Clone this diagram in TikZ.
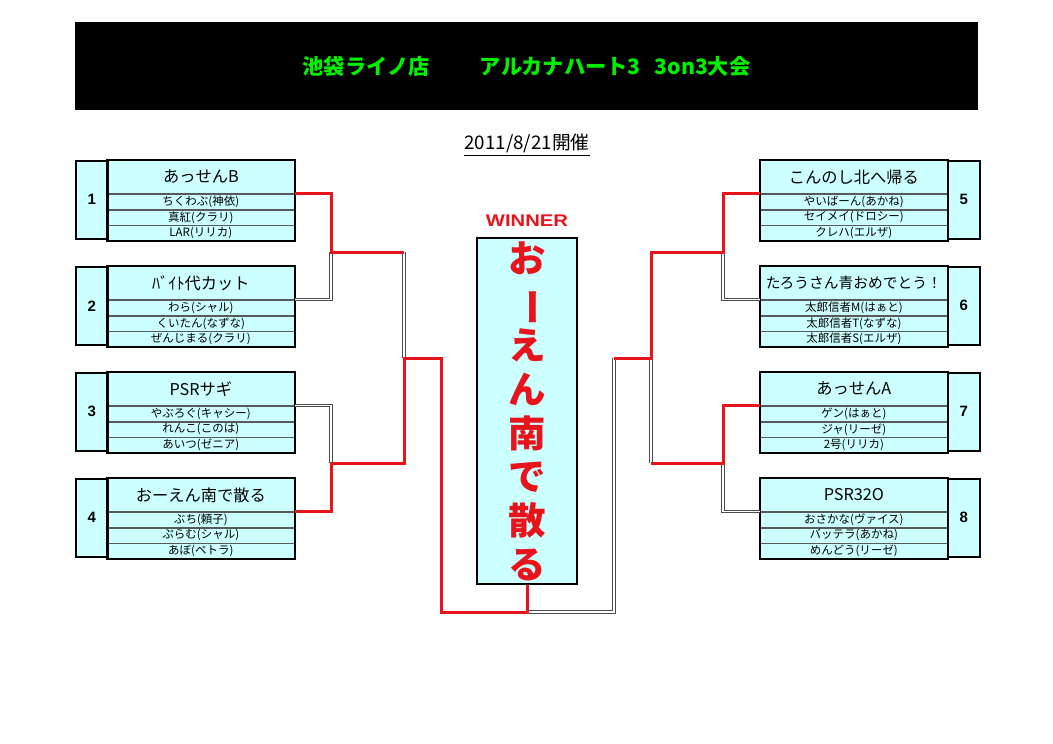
\documentclass[tikz,border=0pt]{standalone}
\usepackage{fontspec}
\usepackage{graphicx}
\setmainfont{Noto Sans CJK JP}
\newfontfamily\arialfont{Liberation Sans}
\usepackage{tikz}
\usetikzlibrary{positioning}
\definecolor{cellc}{HTML}{CCFFFF}
\definecolor{winr}{HTML}{E8141C}
\definecolor{titleg}{HTML}{00F000}
\tikzset{
  namecell/.style={fill=cellc,draw=black!65,line width=0.6pt,minimum width=149.6pt,minimum height=26.4pt,inner sep=0pt,font=\fontsize{13}{13}\selectfont},
  memcell/.style={fill=cellc,draw=black!65,line width=0.6pt,minimum width=149.6pt,minimum height=12pt,inner sep=0pt,font=\fontsize{9.2}{9.2}\selectfont},
  numcell/.style={fill=cellc,draw=black,line width=1.3pt,minimum width=25.6pt,minimum height=62.4pt,inner sep=0pt,font=\arialfont\bfseries\fontsize{12}{12}\selectfont},
  frame/.style={draw=black,line width=1.3pt},
  win/.style={draw=winr,line width=2.4pt},
  lose/.style={draw=black!70,double=white,double distance=0.9pt,line width=0.85pt},
}

\begin{document}
\begin{tikzpicture}[x=0.8pt,y=-0.8pt]
\useasboundingbox (0,0) rectangle (1053,744);
\def\team#1#2#3#4#5#6#7#8#9{
  \node[namecell,anchor=north west] (#1) at (#2,#4) {#6};
  \node[memcell,below=0pt of #1] (#1a) {#7};
  \node[memcell,below=0pt of #1a] (#1b) {#8};
  \node[memcell,below=0pt of #1b] (#1c) {#9};
  \node[numcell,anchor=north west] (#1n) at (#3,#4) {#5};
  \draw[frame] (#1.north west) rectangle (#1c.south east);}
\node[fill=black,minimum width=722.4pt,minimum height=70.4pt,text=titleg,font=\bfseries\fontsize{17}{17}\selectfont] (head) at (526.5,66) {池袋ライノ店\hspace{40pt}アルカナハート3\hspace{11pt}3on3大会};
\node[font=\fontsize{15}{15}\selectfont] (date) at (527,145) {\underline{2011/8/21開催}};
\team{t1}{107}{75}{160}{1}{あっせんB}{ちくわぶ(神依)}{真紅(クラリ)}{LAR(リリカ)}
\team{t2}{107}{75}{266}{2}{ﾊﾞｲﾄ代カット}{わら(シャル)}{くいたん(なずな)}{ぜんじまる(クラリ)}
\team{t3}{107}{75}{372}{3}{PSRサギ}{やぶろぐ(キャシー)}{れんこ(このは)}{あいつ(ゼニア)}
\team{t4}{107}{75}{478}{4}{おーえん南で散る}{ぶち(頼子)}{ぷらむ(シャル)}{あぼ(ペトラ)}
\team{t5}{760}{947}{160}{5}{こんのし北へ帰る}{やいばーん(あかね)}{セイメイ(ドロシー)}{クレハ(エルザ)}
\team{t6}{760}{947}{266}{6}{\fontsize{11.8}{11.8}\selectfont たろうさん青おめでとう！}{太郎信者M(はぁと)}{太郎信者T(なずな)}{太郎信者S(エルザ)}
\team{t7}{760}{947}{372}{7}{あっせんA}{ゲン(はぁと)}{ジャ(リーゼ)}{2号(リリカ)}
\team{t8}{760}{947}{478}{8}{PSR32O}{おさかな(ヴァイス)}{バッテラ(あかね)}{めんどう(リーゼ)}
\node[fill=cellc,draw=black,line width=1.3pt,minimum width=80pt,minimum height=276.8pt,inner sep=0pt,align=center,text=winr,font=\bfseries\fontsize{30}{35}\selectfont] (cup) at (527,411) {お\\\rotatebox[origin=c]{-90}{ー}\\え\\ん\\南\\で\\散\\る};
\node[above=8pt of cup,inner sep=0pt,text=winr,font=\arialfont\bfseries\fontsize{13.5}{13.5}\selectfont] (winner) {\scalebox{1.2}[1]{WINNER}};
\coordinate (q1) at (331,252);
\coordinate (q2) at (331,463);
\coordinate (s1) at (404,358);
\coordinate (fl) at (441,612);
\coordinate (q3) at (723,252);
\coordinate (q4) at (723,463);
\coordinate (s2) at (651,358);
\coordinate (fr) at (614,612);
\draw[lose] (t2.south east) -| (q1);
\draw[lose] (q1 -| s1) -- (s1);
\draw[lose] (t3.south east) -| (q2);
\draw[lose] (t6.south west) -| (q3);
\draw[lose] (t8.south west) -| (q4);
\draw[lose] (q4 -| s2) -- (s2);
\draw[lose] (fl -| cup.south) -- (fr) -- (fr |- s2);
\draw[win] (t1.south east) -| (q1) -- (q1 -| s1);
\draw[win] (t4.south east) -| (q2) -- (q2 -| s1) -- (s1) -| (fl) -- (fl -| cup.south) -- (cup.south);
\draw[win] (t5.south west) -| (q3) -- (q3 -| s2) -- (s2) -- (fr |- s2);
\draw[win] (t7.south west) -| (q4) -- (q4 -| s2);
\end{tikzpicture}
\end{document}
